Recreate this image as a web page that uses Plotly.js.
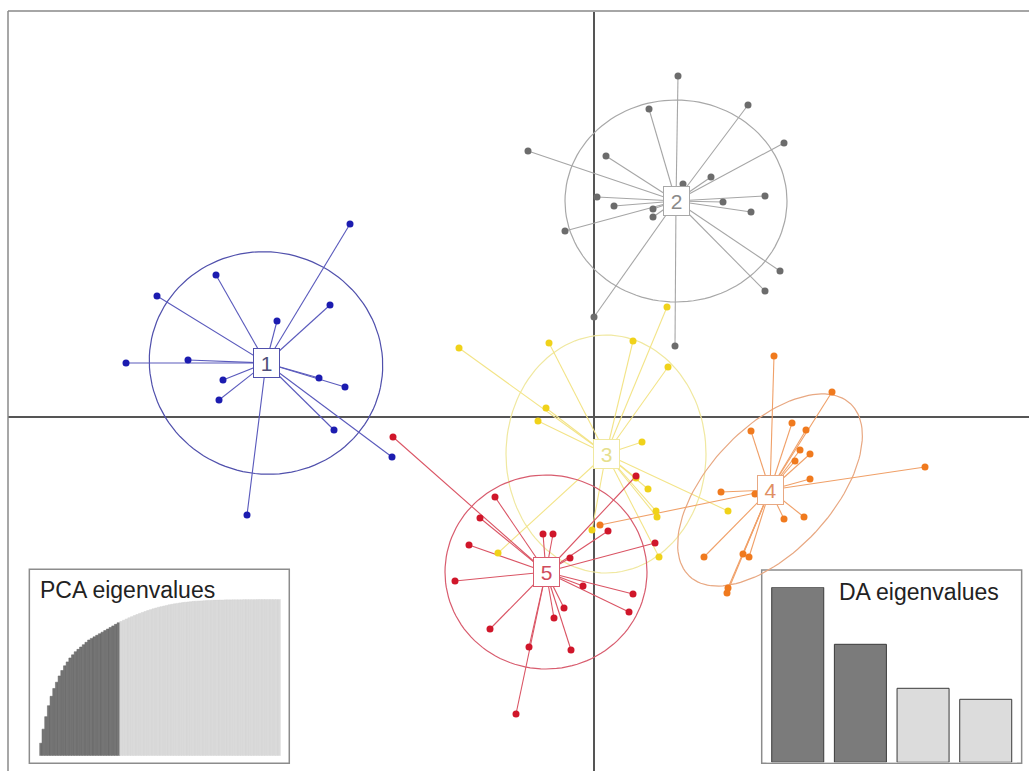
<!DOCTYPE html>
<html><head><meta charset="utf-8">
<script src="https://cdn.plot.ly/plotly-3.0.1.min.js"></script>
<style>html,body{margin:0;padding:0;background:#fff}#chart{width:1029px;height:771px}</style>
</head><body><div id="chart"></div>
<script>
// ---- data (discriminant function scores) ----
const groups = ['1', '2', '3', '4', '5'];
const centroidX = [-3.28, 0.82, 0.12, 1.76, -0.48];
const centroidY = [0.54, 2.16, -0.37, -0.73, -1.55];

const g1x = [-2.44, -3.78, -4.37, -2.64, -3.17, -4.68, -4.06, -3.71, -3.75, -2.75, -2.49, -2.60, -2.02, -3.47];
const g1y = [1.93, 1.42, 1.21, 1.12, 0.96, 0.54, 0.57, 0.37, 0.17, 0.39, 0.30, -0.13, -0.40, -0.98];

const g2x = [0.84, 0.55, 1.54, 1.90, -0.66, 0.12, 1.17, 0.89, 0.03, 1.71, 0.20, 0.59, 1.29, 1.57, 0.59, -0.29, 1.86, 1.71, 0.00, 0.81];
const g2y = [3.41, 3.08, 3.12, 2.74, 2.66, 2.61, 2.40, 2.33, 2.20, 2.21, 2.11, 2.08, 2.15, 2.05, 2.00, 1.86, 1.46, 1.26, 1.00, 0.71];

const g3x = [0.73, -1.35, -0.45, 0.39, 0.74, -0.48, -0.56, 0.48, 0.42, 0.54, 0.62, 0.63, 1.34, -0.02, 0.65, -0.96];
const g3y = [1.10, 0.69, 0.74, 0.76, 0.50, 0.09, -0.04, -0.25, -0.61, -0.72, -0.94, -1.00, -0.94, -1.13, -1.40, -1.36];

const g4x = [1.80, 2.38, 1.98, 1.57, 2.12, 2.06, 2.16, 2.01, 3.31, 2.16, 1.27, 1.61, 1.90, 2.10, 1.10, 1.49, 1.55, 1.34, 1.33, 0.06];
const g4y = [0.61, 0.25, -0.06, -0.14, -0.13, -0.33, -0.37, -0.44, -0.50, -0.62, -0.75, -0.77, -1.02, -1.00, -1.40, -1.37, -1.40, -1.71, -1.76, -1.08];

const g5x = [-0.99, -1.14, -1.25, -0.51, -0.41, -1.39, -1.04, -0.65, -0.78, -0.40, -0.30, -0.23, -0.11, 0.39, 0.35, -0.24, 0.14, 0.61, 0.42, -2.01];
const g5y = [-0.80, -1.01, -1.28, -1.17, -1.17, -1.64, -2.12, -2.30, -2.97, -2.01, -1.91, -2.33, -1.69, -1.77, -1.95, -1.41, -1.14, -1.26, -0.59, -0.20];

// inertia ellipses: semi-axes and rotation (degrees)
const ellipseA = [1.17, 1.11, 1.00, 1.18, 1.01];
const ellipseB = [1.11, 1.01, 1.19, 0.62, 0.97];
const ellipseAngle = [-12, 0, 0, 47, 0];

// PCA eigenvalues inset (cumulative proportion), number retained
const pcaCumVar = [0.08, 0.17, 0.25, 0.32, 0.38, 0.43, 0.47, 0.51, 0.545, 0.575,
  0.60, 0.625, 0.645, 0.665, 0.68, 0.695, 0.71, 0.725, 0.74, 0.75,
  0.76, 0.77, 0.78, 0.79, 0.80, 0.81, 0.82, 0.83, 0.84, 0.85,
  0.858, 0.866, 0.874, 0.882, 0.889, 0.896, 0.903, 0.910, 0.916, 0.922,
  0.928, 0.934, 0.939, 0.944, 0.949, 0.953, 0.957, 0.961, 0.965, 0.968,
  0.971, 0.974, 0.977, 0.979, 0.981, 0.983, 0.985, 0.987, 0.988, 0.989,
  0.990, 0.991, 0.992, 0.993, 0.994, 0.995, 0.995, 0.996, 0.996, 0.997,
  0.997, 0.997, 0.998, 0.998, 0.998, 0.998, 0.999, 0.999, 0.999, 0.999,
  0.999, 1.0, 1.0, 1.0, 1.0, 1.0, 1.0, 1.0, 1.0, 1.0];
const pcaRetained = 30;

// DA eigenvalues inset
const daEigen = [175, 118, 74, 63];
const daRetained = 2;

// ---- styles ----
const pointColors = ['#1c1cb0', '#6c6c6c', '#f0d21a', '#f07a1e', '#d0162a'];
const lineColors = ['#5a5abc', '#a6a6a6', '#f3e488', '#f0a068', '#da5464'];
const ellipseColors = ['#5050ac', '#a8a8a8', '#f0e8a0', '#e8a882', '#d85c6e'];
const labelColors = ['#50507a', '#8a8a8a', '#e6df8e', '#e08e62', '#d04c5c'];

const gx = [g1x, g2x, g3x, g4x, g5x];
const gy = [g1y, g2y, g3y, g4y, g5y];

const traces = [];
groups.forEach((g, k) => {
  const ex = [], ey = [];
  const th = ellipseAngle[k] * Math.PI / 180;
  for (let i = 0; i <= 120; i++) {
    const t = 2 * Math.PI * i / 120;
    const u = ellipseA[k] * Math.cos(t), v = ellipseB[k] * Math.sin(t);
    ex.push(centroidX[k] + u * Math.cos(th) - v * Math.sin(th));
    ey.push(centroidY[k] + u * Math.sin(th) + v * Math.cos(th));
  }
  traces.push({x: ex, y: ey, mode: 'lines', type: 'scatter', line: {color: ellipseColors[k], width: 1.2}, hoverinfo: 'skip', showlegend: false});
  const sx = [], sy = [];
  gx[k].forEach((v, i) => { sx.push(centroidX[k], v, null); sy.push(centroidY[k], gy[k][i], null); });
  traces.push({x: sx, y: sy, mode: 'lines', type: 'scatter', line: {color: lineColors[k], width: 1.1}, hoverinfo: 'skip', showlegend: false});
});
groups.forEach((g, k) => {
  traces.push({x: gx[k], y: gy[k], mode: 'markers', type: 'scatter', marker: {color: pointColors[k], size: 7}, hoverinfo: 'skip', showlegend: false, name: 'group ' + g});
});

const pcaX = pcaCumVar.map((v, i) => i + 1);
traces.push({type: 'bar', x: pcaX, y: pcaCumVar, xaxis: 'x2', yaxis: 'y2', width: 1,
  marker: {color: pcaCumVar.map((v, i) => i < pcaRetained ? '#757575' : '#dadada'),
           line: {color: pcaCumVar.map((v, i) => i < pcaRetained ? '#626262' : '#d2d2d2'), width: 0.5}},
  hoverinfo: 'skip', showlegend: false});
traces.push({type: 'bar', x: daEigen.map((v, i) => i + 1), y: daEigen, xaxis: 'x3', yaxis: 'y3', width: 0.83,
  marker: {color: daEigen.map((v, i) => i < daRetained ? '#7b7b7b' : '#dcdcdc'), line: {color: '#3a3a3a', width: 1}},
  hoverinfo: 'skip', showlegend: false});

const annotations = groups.map((g, k) => ({
  x: centroidX[k], y: centroidY[k], xref: 'x', yref: 'y', text: g, showarrow: false,
  bgcolor: '#ffffff', bordercolor: ellipseColors[k], borderwidth: 1, borderpad: 1,
  width: 23, height: 26, font: {family: 'Liberation Sans, Arial, sans-serif', size: 21, color: labelColors[k]}
}));
annotations.push({xref: 'paper', yref: 'paper', x: 0.0297, y: 0.238, xanchor: 'left', yanchor: 'middle', showarrow: false,
  text: 'PCA eigenvalues', font: {family: 'Liberation Sans, Arial, sans-serif', size: 23, color: '#222'}});
annotations.push({xref: 'paper', yref: 'paper', x: 0.9726, y: 0.236, xanchor: 'right', yanchor: 'middle', showarrow: false,
  text: 'DA eigenvalues', font: {family: 'Liberation Sans, Arial, sans-serif', size: 23, color: '#222'}});

const hidden = {showgrid: false, zeroline: false, showticklabels: false, ticks: '', showline: false, fixedrange: true};

const layout = {
  width: 1029, height: 771,
  margin: {l: 8, r: 0, t: 11, b: 0},
  paper_bgcolor: '#ffffff', plot_bgcolor: '#ffffff',
  showlegend: false, bargap: 0,
  xaxis: Object.assign({}, hidden, {range: [-5.86, 4.35], domain: [0, 1], zeroline: true, zerolinecolor: '#555', zerolinewidth: 1.5}),
  yaxis: Object.assign({}, hidden, {range: [-3.54, 4.06], domain: [0, 1], zeroline: true, zerolinecolor: '#555', zerolinewidth: 1.5}),
  xaxis2: Object.assign({}, hidden, {range: [0.5, pcaCumVar.length + 0.5], domain: [0.0307, 0.2671], anchor: 'y2'}),
  yaxis2: Object.assign({}, hidden, {range: [0, 1], domain: [0.0201, 0.2259], anchor: 'x2'}),
  xaxis3: Object.assign({}, hidden, {range: [0.5, 4.5], domain: [0.7428, 0.9883], anchor: 'y3'}),
  yaxis3: Object.assign({}, hidden, {range: [0, 175], domain: [0.01145, 0.2417], anchor: 'x3'}),
  shapes: [
    {type: 'line', xref: 'paper', yref: 'paper', x0: 0, x1: 1, y0: 1, y1: 1, line: {color: '#a6a6a6', width: 2}},
    {type: 'line', xref: 'paper', yref: 'paper', x0: 0, x1: 0, y0: 0, y1: 1, line: {color: '#8a8a8a', width: 1.5}},
    {type: 'rect', xref: 'paper', yref: 'paper', x0: 0.0209, x1: 0.2755, y0: 0.0101, y1: 0.2654, layer: 'below',
      fillcolor: '#ffffff', line: {color: '#8c8c8c', width: 1.5}},
    {type: 'rect', xref: 'paper', yref: 'paper', x0: 0.7382, x1: 0.9928, y0: 0.0101, y1: 0.2645, layer: 'below',
      fillcolor: '#ffffff', line: {color: '#8c8c8c', width: 1.5}}
  ],
  annotations: annotations
};

Plotly.newPlot('chart', traces, layout, {staticPlot: true, displayModeBar: false});
</script>
</body></html>
